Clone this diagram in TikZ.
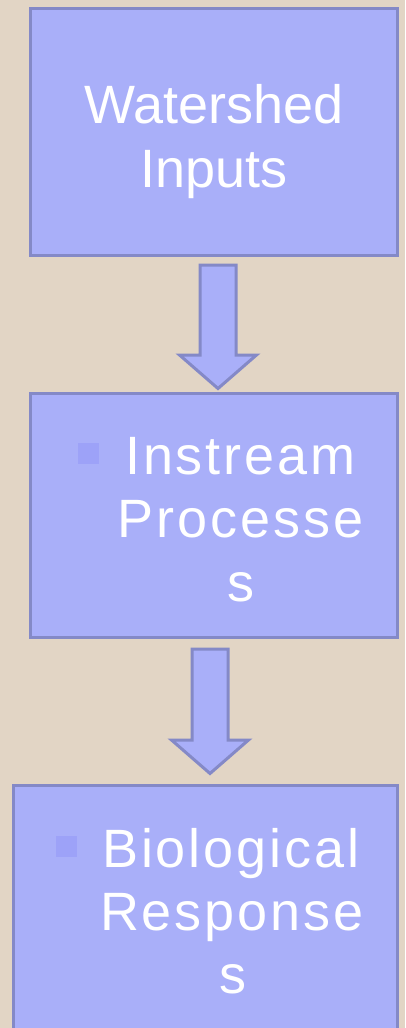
\documentclass[tikz,border=0pt]{standalone}
\usepackage{fontspec}
\setmainfont{Liberation Sans}
\newfontfamily\spacedfont[LetterSpace=5.5]{Liberation Sans}
\usetikzlibrary{calc}

\definecolor{bgbeige}{RGB}{226,213,197}
\definecolor{boxfill}{RGB}{169,175,249}
\definecolor{boxline}{RGB}{132,137,199}
\definecolor{bulletfill}{RGB}{157,162,248}

\tikzset{
	stage/.style={draw=boxline, fill=boxfill, line width=3pt, inner sep=0pt},
	stagetext/.style={text=white, anchor=base, inner sep=0pt, font=\fontsize{54}{64}\selectfont},
	spacedtext/.style={stagetext, font=\spacedfont\fontsize{54}{64}\selectfont},
	bulletsq/.style={fill=bulletfill, inner sep=0pt, minimum size=21pt},
	blockarrow/.style={draw=boxline, fill=boxfill, line width=3pt, line join=miter,
		to path={let \p1=(\tikztostart), \p2=(\tikztotarget) in
			(\x1-18pt,\y1) -- (\x1+18pt,\y1) -- (\x1+18pt,\y2+33.5pt) -- (\x1+38.5pt,\y2+33.5pt)
			-- (\x1,\y2) -- (\x1-38.5pt,\y2+33.5pt) -- (\x1-18pt,\y2+33.5pt) -- cycle}}
}

\begin{document}
\begin{tikzpicture}[x=1pt,y=-1pt]
	\useasboundingbox (0,0) rectangle (405,1028);
	\fill[bgbeige] (0,0) rectangle (405,1028);
	\clip (0,0) rectangle (405,1028);
	% the three stages
	\node[stage, minimum width=367pt, minimum height=247pt] (watershed) at (214,132) {};
	\node[stage, minimum width=367pt, minimum height=244pt] (instream) at (214,515.5) {};
	\node[stage, minimum width=384pt, minimum height=254.5pt] (biological) at (205.5,912.75) {};
	% arrows between them
	\draw[blockarrow] ($(watershed.south)+(4,8)$) to ($(instream.north)+(4,-3.5)$);
	\draw[blockarrow] ($(instream.south)+(-4,10)$) to ($(biological.north)+(4.5,-10.5)$);
	% texts
	\node[stagetext] (w1) at (214,123) {Watershed};
	\node[stagetext] (w2) at (214,187) {Inputs};
	\node[bulletsq] (b1) at (88.5,453.5) {};
	\node[spacedtext] (i1) at (240.5,474) {Instream};
	\node[spacedtext] (i2) at (240.5,537) {Processe};
	\node[spacedtext] (i3) at (241,601) {s};
	\node[bulletsq] (b2) at (66.5,846.5) {};
	\node[spacedtext] (r1) at (231,867) {Biological};
	\node[spacedtext] (r2) at (232,930) {Response};
	\node[spacedtext] (r3) at (233,993) {s};
\end{tikzpicture}
\end{document}
